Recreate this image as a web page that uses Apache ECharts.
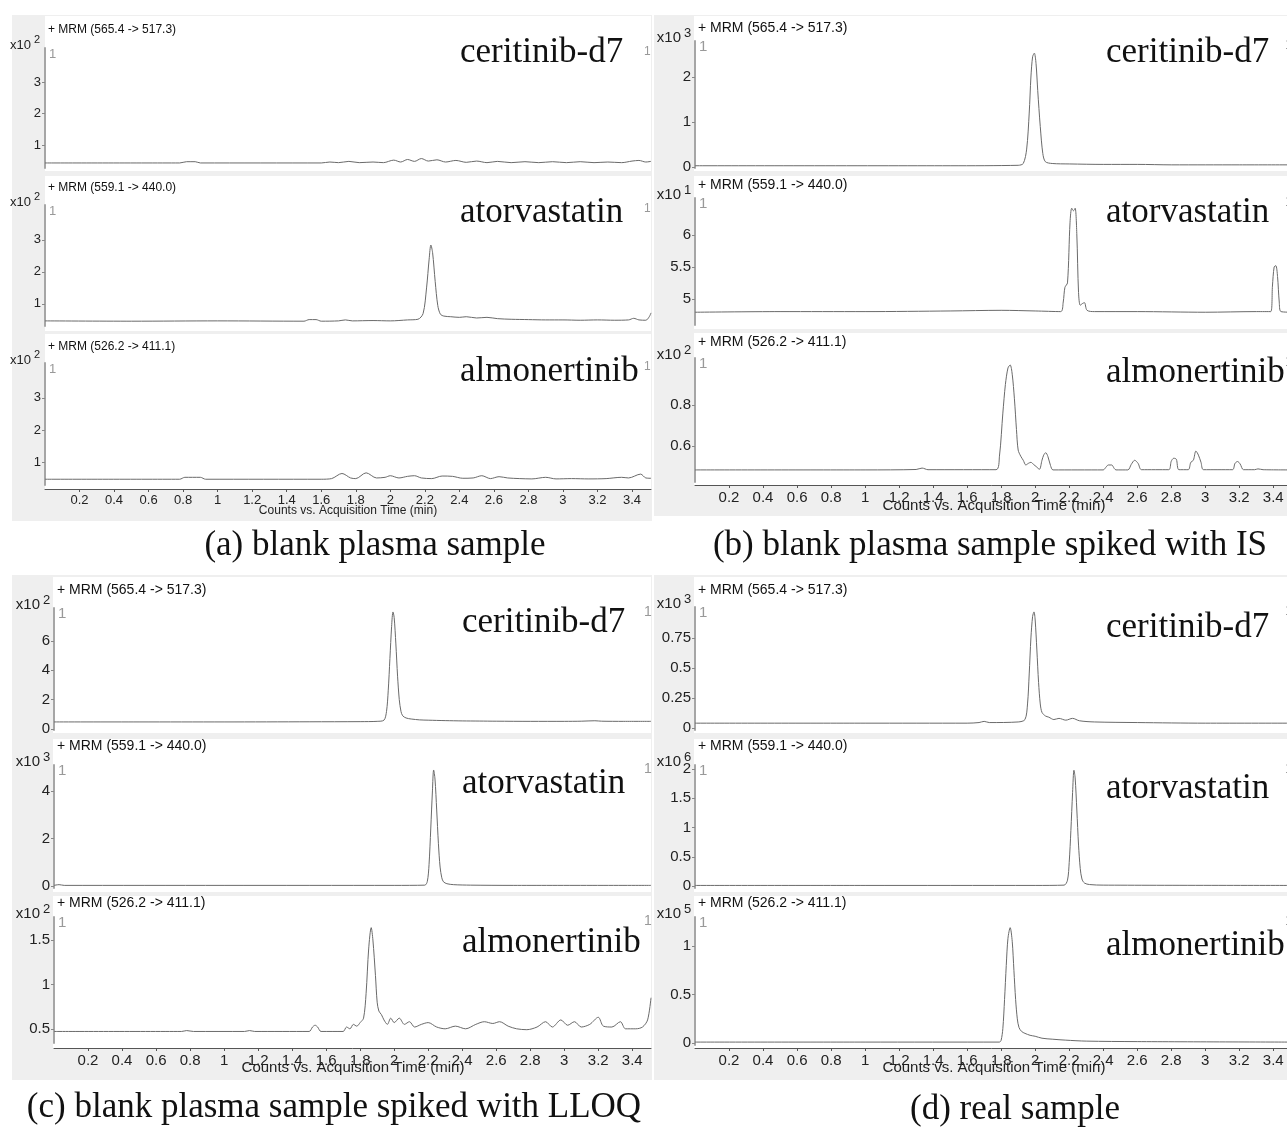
<!DOCTYPE html>
<html>
<head>
<meta charset="utf-8">
<script src="https://cdn.jsdelivr.net/npm/echarts@6/dist/echarts.min.js"></script>
<style>
html, body { margin: 0; padding: 0; background: #fff; }
#chart { width: 1287px; height: 1129px; }
</style>
</head>
<body>
<div id="chart"></div>
<script>
// tick labels and texts
var timeTicks = [0.2, 0.4, 0.6, 0.8, 1, 1.2, 1.4, 1.6, 1.8, 2, 2.2, 2.4, 2.6, 2.8, 3, 3.2, 3.4];
var transitions = ['+ MRM (565.4 -> 517.3)', '+ MRM (559.1 -> 440.0)', '+ MRM (526.2 -> 411.1)'];
var compounds = ['ceritinib-d7', 'atorvastatin', 'almonertinib'];
var captions = ['(a) blank plasma sample', '(b) blank plasma sample spiked with IS',
    '(c) blank plasma sample spiked with LLOQ', '(d) real sample'];
var xTitle = 'Counts vs. Acquisition Time (min)';
// x10^n of each trace, panel by panel
var exponents = [[2, 2, 2], [3, 1, 2], [2, 3, 2], [3, 6, 5]];
var countTicks = [
    [[1, 2, 3], [1, 2, 3], [1, 2, 3]],
    [[0, 1, 2], [5, 5.5, 6], [0.6, 0.8]],
    [[0, 2, 4, 6], [0, 2, 4], [0.5, 1, 1.5]],
    [[0, 0.25, 0.5, 0.75], [0, 0.5, 1, 1.5, 2], [0, 0.5, 1]]
];

// (a) blank plasma
var aCer = [[0, 0.43], [0.78, 0.43], [0.82, 0.47], [0.87, 0.47], [0.9, 0.43], [1.6, 0.43], [1.65, 0.46], [1.7, 0.44],
    [1.76, 0.48], [1.82, 0.44], [1.9, 0.46], [1.96, 0.44], [2.02, 0.52], [2.06, 0.46], [2.1, 0.54], [2.14, 0.48],
    [2.18, 0.57], [2.22, 0.49], [2.27, 0.53], [2.32, 0.46], [2.38, 0.51], [2.44, 0.45], [2.5, 0.49], [2.56, 0.44],
    [2.62, 0.48], [2.7, 0.44], [2.78, 0.47], [2.86, 0.44], [2.94, 0.47], [3.02, 0.44], [3.1, 0.47], [3.18, 0.44],
    [3.26, 0.46], [3.34, 0.44], [3.4, 0.49], [3.44, 0.51], [3.48, 0.46], [3.51, 0.48]];
var aAtor = [[0, 0.47], [0.5, 0.46], [1.0, 0.47], [1.5, 0.46], [1.53, 0.51], [1.57, 0.51], [1.6, 0.46], [1.7, 0.47],
    [1.74, 0.5], [1.78, 0.47], [1.9, 0.48], [2.0, 0.47], [2.1, 0.5], [2.16, 0.52], [2.19, 0.7], [2.21, 1.5],
    [2.225, 2.4], [2.235, 2.84], [2.245, 2.6], [2.26, 1.7], [2.275, 0.95], [2.29, 0.68], [2.31, 0.62], [2.35, 0.6],
    [2.4, 0.58], [2.44, 0.6], [2.5, 0.56], [2.56, 0.58], [2.62, 0.54], [2.7, 0.52], [2.8, 0.51], [2.9, 0.5],
    [3.0, 0.5], [3.1, 0.49], [3.2, 0.5], [3.3, 0.49], [3.38, 0.5], [3.41, 0.55], [3.44, 0.5], [3.48, 0.49],
    [3.5, 0.6], [3.51, 0.72]];
var aAlmo = [[0, 0.46], [0.78, 0.46], [0.81, 0.52], [0.9, 0.52], [0.93, 0.46], [1.6, 0.46], [1.66, 0.48], [1.72, 0.64],
    [1.77, 0.5], [1.8, 0.48], [1.86, 0.66], [1.92, 0.5], [1.97, 0.52], [2.0, 0.57], [2.05, 0.5], [2.1, 0.55],
    [2.14, 0.57], [2.18, 0.5], [2.24, 0.48], [2.3, 0.56], [2.36, 0.55], [2.42, 0.49], [2.48, 0.5], [2.53, 0.57],
    [2.58, 0.48], [2.63, 0.54], [2.68, 0.5], [2.75, 0.48], [2.82, 0.47], [2.9, 0.52], [2.96, 0.47], [3.05, 0.48],
    [3.15, 0.47], [3.25, 0.48], [3.34, 0.52], [3.38, 0.5], [3.45, 0.62], [3.48, 0.5], [3.51, 0.49]];

// (b) spiked with IS
var bCer = [[0, 0.03], [1.5, 0.03], [1.9, 0.04], [1.93, 0.08], [1.95, 0.4], [1.965, 1.2], [1.975, 2.0], [1.985, 2.45],
    [1.995, 2.53], [2.005, 2.3], [2.015, 1.7], [2.03, 0.9], [2.045, 0.3], [2.06, 0.12], [2.1, 0.08], [2.2, 0.07],
    [2.4, 0.06], [2.6, 0.06], [2.8, 0.05], [3.0, 0.05], [3.2, 0.05], [3.51, 0.05]];
var bAtor = [[0, 4.79], [0.5, 4.8], [1.0, 4.8], [1.5, 4.81], [1.8, 4.82], [2.0, 4.81], [2.15, 4.8], [2.165, 4.95],
    [2.175, 5.18], [2.19, 5.25], [2.205, 6.2], [2.215, 6.42], [2.225, 6.38], [2.235, 6.42], [2.245, 6.0], [2.255, 5.1],
    [2.265, 4.9], [2.28, 4.93], [2.29, 4.94], [2.305, 4.82], [2.35, 4.8], [2.6, 4.8], [3.0, 4.79], [3.3, 4.8],
    [3.385, 4.8], [3.395, 5.2], [3.405, 5.5], [3.415, 5.52], [3.425, 5.35], [3.435, 4.95], [3.445, 4.8], [3.51, 4.79]];
var bAlmo = [[0, 0.483], [1.0, 0.483], [1.3, 0.485], [1.335, 0.492], [1.37, 0.484], [1.77, 0.484], [1.79, 0.55],
    [1.81, 0.76], [1.825, 0.9], [1.84, 0.98], [1.853, 0.995], [1.865, 0.95], [1.878, 0.83], [1.89, 0.68], [1.9, 0.58],
    [1.915, 0.55], [1.93, 0.53], [1.945, 0.507], [1.96, 0.515], [1.975, 0.52], [1.99, 0.51], [2.005, 0.5],
    [2.025, 0.486], [2.04, 0.53], [2.05, 0.555], [2.062, 0.567], [2.075, 0.548], [2.09, 0.505], [2.105, 0.483],
    [2.4, 0.483], [2.415, 0.495], [2.43, 0.507], [2.45, 0.507], [2.465, 0.49], [2.475, 0.483], [2.545, 0.483],
    [2.565, 0.51], [2.585, 0.53], [2.605, 0.515], [2.625, 0.484], [2.785, 0.484], [2.8, 0.525], [2.815, 0.54],
    [2.83, 0.535], [2.845, 0.484], [2.9, 0.484], [2.915, 0.52], [2.93, 0.53], [2.945, 0.575], [2.96, 0.555],
    [2.975, 0.52], [2.99, 0.484], [3.16, 0.484], [3.175, 0.515], [3.19, 0.524], [3.205, 0.512], [3.225, 0.484],
    [3.29, 0.484], [3.31, 0.488], [3.34, 0.484], [3.51, 0.483]];

// (c) spiked with LLOQ
var cCer = [[0, 0.48], [0.5, 0.48], [1.0, 0.48], [1.5, 0.49], [1.8, 0.5], [1.9, 0.52], [1.94, 0.6], [1.955, 1.2],
    [1.965, 2.6], [1.975, 4.8], [1.985, 7.0], [1.993, 7.98], [2.0, 7.6], [2.01, 5.8], [2.02, 3.6], [2.03, 2.0],
    [2.04, 1.2], [2.05, 0.9], [2.07, 0.75], [2.1, 0.68], [2.15, 0.62], [2.2, 0.6], [2.3, 0.57], [2.4, 0.55],
    [2.5, 0.54], [2.6, 0.53], [2.8, 0.52], [3.0, 0.52], [3.1, 0.53], [3.18, 0.56], [3.22, 0.53], [3.35, 0.52],
    [3.51, 0.52]];
var cAtor = [[0, 0.03], [0.03, 0.06], [0.06, 0.03], [1.0, 0.03], [2.0, 0.03], [2.18, 0.04], [2.195, 0.2], [2.205, 0.9],
    [2.215, 2.4], [2.225, 4.0], [2.232, 4.88], [2.24, 4.5], [2.25, 3.2], [2.26, 1.8], [2.27, 0.8], [2.28, 0.35],
    [2.29, 0.18], [2.31, 0.1], [2.35, 0.06], [2.45, 0.04], [2.7, 0.03], [3.51, 0.03]];
var cAlmo = [[0, 0.47], [0.75, 0.47], [0.78, 0.48], [0.82, 0.47], [1.12, 0.47], [1.15, 0.48], [1.18, 0.47], [1.5, 0.47],
    [1.52, 0.52], [1.535, 0.54], [1.55, 0.52], [1.57, 0.47], [1.7, 0.47], [1.72, 0.52], [1.74, 0.5], [1.76, 0.55],
    [1.78, 0.53], [1.8, 0.57], [1.82, 0.62], [1.835, 0.9], [1.85, 1.4], [1.865, 1.64], [1.875, 1.5], [1.89, 1.1],
    [1.9, 0.8], [1.91, 0.7], [1.925, 0.66], [1.94, 0.6], [1.96, 0.55], [1.98, 0.62], [2.0, 0.57], [2.03, 0.62],
    [2.06, 0.55], [2.09, 0.58], [2.12, 0.52], [2.16, 0.55], [2.2, 0.57], [2.25, 0.52], [2.3, 0.5], [2.36, 0.53],
    [2.42, 0.5], [2.48, 0.55], [2.53, 0.58], [2.58, 0.56], [2.62, 0.58], [2.67, 0.53], [2.72, 0.5], [2.78, 0.49],
    [2.84, 0.52], [2.89, 0.58], [2.93, 0.52], [2.98, 0.6], [3.02, 0.54], [3.06, 0.58], [3.1, 0.52], [3.15, 0.55],
    [3.2, 0.63], [3.23, 0.53], [3.28, 0.52], [3.33, 0.58], [3.36, 0.5], [3.42, 0.5], [3.46, 0.52], [3.49, 0.6],
    [3.51, 0.85]];

// (d) real sample
var dCer = [[0, 0.04], [1.0, 0.04], [1.6, 0.04], [1.67, 0.045], [1.7, 0.055], [1.73, 0.045], [1.9, 0.05], [1.94, 0.07],
    [1.955, 0.2], [1.965, 0.45], [1.975, 0.75], [1.985, 0.93], [1.993, 0.967], [2.0, 0.9], [2.01, 0.65], [2.02, 0.38],
    [2.03, 0.2], [2.04, 0.13], [2.06, 0.1], [2.08, 0.09], [2.11, 0.07], [2.14, 0.08], [2.18, 0.065], [2.22, 0.08],
    [2.26, 0.06], [2.35, 0.05], [2.6, 0.045], [3.0, 0.04], [3.51, 0.04]];
var dAtor = [[0, 0.01], [1.0, 0.01], [2.0, 0.01], [2.17, 0.015], [2.19, 0.1], [2.2, 0.4], [2.21, 0.95], [2.22, 1.6],
    [2.228, 1.98], [2.235, 1.85], [2.245, 1.3], [2.255, 0.7], [2.265, 0.3], [2.275, 0.12], [2.29, 0.05], [2.32, 0.025],
    [2.4, 0.015], [3.51, 0.01]];
var dAlmo = [[0, 0.01], [1.0, 0.01], [1.79, 0.01], [1.8, 0.03], [1.81, 0.15], [1.82, 0.45], [1.83, 0.8], [1.84, 1.08],
    [1.853, 1.19], [1.865, 1.05], [1.875, 0.75], [1.885, 0.45], [1.895, 0.25], [1.905, 0.16], [1.92, 0.12], [1.94, 0.1],
    [1.97, 0.08], [2.0, 0.07], [2.04, 0.05], [2.1, 0.04], [2.18, 0.03], [2.3, 0.02], [2.6, 0.015], [3.51, 0.01]];

var traces = [[aCer, aAtor, aAlmo], [bCer, bAtor, bAlmo], [cCer, cAtor, cAlmo], [dCer, dAtor, dAlmo]];

// where each panel sits on the page
var panels = [
    { bg: [12, 15, 640, 506], left: 45, width: 606, font: 13, mrmFont: 12, xFont: 12, nameX: 460, cap: [375, 546], xLab: [348, 511], gap: 4,
        plots: [
            { white: [45, 16, 606, 155], top: 48, height: 120, min: 0.27, max: 4.08, mrmY: 30, nameY: 53 },
            { white: [45, 176, 606, 155], top: 205, height: 121, min: 0.31, max: 4.09, mrmY: 188, nameY: 213 },
            { white: [45, 334, 606, 155], top: 363, height: 122, min: 0.28, max: 4.09, mrmY: 347, nameY: 372 }
        ] },
    { bg: [654, 15, 640, 501], left: 695, width: 597, font: 15, mrmFont: 14, xFont: 15, nameX: 1106, cap: [990, 546], xLab: [994, 506], gap: 3,
        plots: [
            { white: [694, 16, 598, 155], top: 41, height: 127, min: -0.02, max: 2.8, mrmY: 28, nameY: 53 },
            { white: [694, 176, 598, 153], top: 198, height: 127, min: 4.59, max: 6.58, mrmY: 185, nameY: 213 },
            { white: [694, 333, 598, 152], top: 358, height: 124, min: 0.424, max: 1.029, mrmY: 342, nameY: 373 }
        ] },
    { bg: [12, 575, 640, 505], left: 54, width: 597, font: 15, mrmFont: 14, xFont: 15, nameX: 462, cap: [334, 1108], xLab: [353, 1068], gap: 5,
        plots: [
            { white: [53, 577, 598, 156], top: 608, height: 122, min: -0.07, max: 8.25, mrmY: 590, nameY: 623 },
            { white: [53, 739, 598, 153], top: 765, height: 123, min: -0.08, max: 5.09, mrmY: 746, nameY: 784 },
            { white: [53, 896, 598, 152], top: 917, height: 126, min: 0.34, max: 1.76, mrmY: 903, nameY: 943 }
        ] },
    { bg: [654, 575, 640, 505], left: 695, width: 597, font: 15, mrmFont: 14, xFont: 15, nameX: 1106, cap: [1015, 1110], xLab: [994, 1068], gap: 3,
        plots: [
            { white: [694, 577, 598, 156], top: 607, height: 123, min: -0.017, max: 1.008, mrmY: 590, nameY: 628 },
            { white: [694, 739, 598, 153], top: 765, height: 123, min: -0.034, max: 2.07, mrmY: 746, nameY: 789 },
            { white: [694, 896, 598, 152], top: 917, height: 128, min: -0.02, max: 1.3, mrmY: 903, nameY: 946 }
        ] }
];

var sans = "'Liberation Sans', Arial, sans-serif";
var serif = "'Liberation Serif', 'Times New Roman', serif";
var plain = function (v) { return String(v); };

var chart = echarts.init(document.getElementById('chart'));
var grids = [], xAxes = [], yAxes = [], series = [], shapes = [];

function addText(x, y, text, size, family, color, align, z) {
    shapes.push({
        type: 'text', x: x, y: y, z: z || 5, silent: true,
        style: { text: text, fontSize: size, fontFamily: family, fill: color,
            textAlign: align || 'left', textVerticalAlign: 'middle' }
    });
}

panels.forEach(function (p, pi) {
    shapes.push({ type: 'rect', z: -2, silent: true,
        shape: { x: p.bg[0], y: p.bg[1], width: p.bg[2], height: p.bg[3] }, style: { fill: '#efefef' } });
    p.plots.forEach(function (s, k) {
        var idx = grids.length;
        var last = k === 2;
        shapes.push({ type: 'rect', z: -1, silent: true,
            shape: { x: s.white[0], y: s.white[1], width: s.white[2], height: s.white[3] }, style: { fill: '#fff' } });
        grids.push({ left: p.left, top: s.top, width: p.width, height: s.height, containLabel: false, outerBoundsMode: 'none' });
        xAxes.push({
            gridIndex: idx, type: 'value', min: 0, max: 3.51, show: last, offset: p.gap,
            axisLine: { show: true, onZero: false, lineStyle: { color: '#555', width: 1 } },
            axisTick: { show: true, length: 3, customValues: timeTicks, lineStyle: { color: '#555' } },
            axisLabel: { customValues: timeTicks, formatter: plain, margin: 5, color: '#222',
                fontSize: p.font, fontFamily: sans },
            splitLine: { show: false }
        });
        yAxes.push({
            gridIndex: idx, type: 'value', min: s.min, max: s.max,
            axisLine: { show: true, onZero: false, lineStyle: { color: '#a6a6a6', width: 2 } },
            axisTick: { show: true, length: 3, customValues: countTicks[pi][k], lineStyle: { color: '#888' } },
            axisLabel: { customValues: countTicks[pi][k], formatter: plain, margin: 4, color: '#222',
                fontSize: p.font, fontFamily: sans },
            splitLine: { show: false }
        });
        series.push({
            type: 'line', xAxisIndex: idx, yAxisIndex: idx, data: traces[pi][k],
            showSymbol: false, symbol: 'none', smooth: 0.3, silent: true, z: 3,
            lineStyle: { color: '#6a6a6a', width: 1 }
        });
        // labels of the trace
        addText(p.left + 3, s.mrmY, transitions[k], p.mrmFont, sans, '#111');
        addText(p.left - 14, s.top - 3, 'x10', p.font, sans, '#222', 'right');
        addText(p.left - 11, s.top - 8, String(exponents[pi][k]), p.font - 2, sans, '#222');
        addText(p.left + 4, s.top + 6, '1', p.font, sans, '#999');
        addText(s.white[0] + s.white[2] - 7, s.top + 4, '1', p.font - 1, sans, '#999');
        addText(p.nameX, s.nameY, compounds[k], 35, serif, '#111');
    });
    addText(p.xLab[0], p.xLab[1], xTitle, p.xFont, sans, '#222', 'center', 6);
    addText(p.cap[0], p.cap[1], captions[pi], 35, serif, '#111', 'center');
});

chart.setOption({
    animation: false,
    backgroundColor: '#fff',
    grid: grids,
    xAxis: xAxes,
    yAxis: yAxes,
    series: series,
    graphic: { elements: shapes }
});
window.addEventListener('resize', function () {
    chart.resize();
});
</script>
</body>
</html>
